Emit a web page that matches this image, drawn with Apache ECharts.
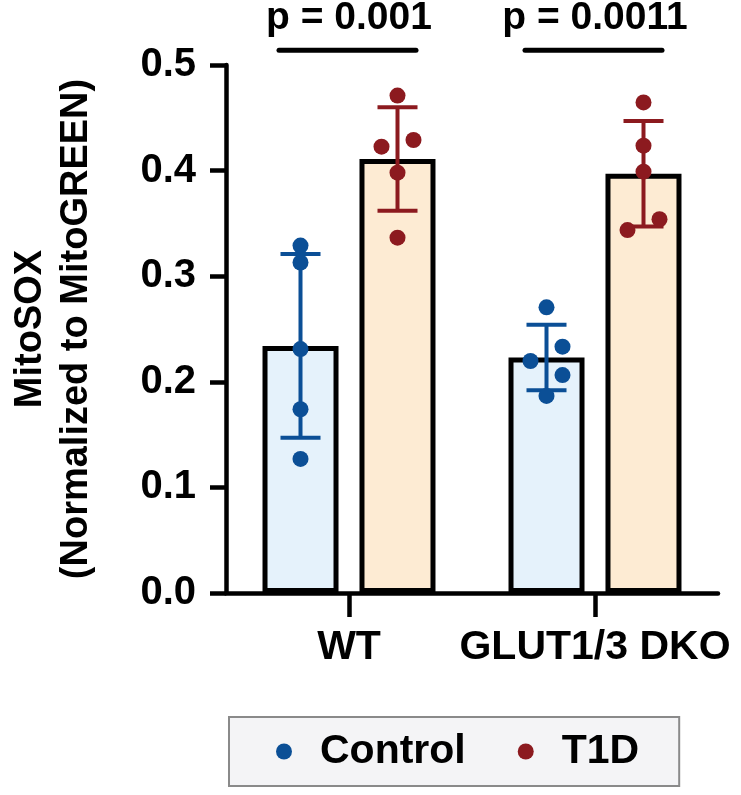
<!DOCTYPE html>
<html>
<head>
<meta charset="utf-8">
<script src="https://cdn.jsdelivr.net/npm/echarts@6/dist/echarts.min.js"></script>
<style>
html,body{margin:0;padding:0;background:#fff;}
#chart{width:741px;height:795px;}
</style>
</head>
<body>
<div id="chart"></div>
<script>
// ---- data ----
const categories = ['WT', 'GLUT1/3 DKO'];
const seriesNames = ['Control', 'T1D'];
const yTickLabels = ['0.0', '0.1', '0.2', '0.3', '0.4', '0.5'];
const controlMean = [0.234, 0.223];
const t1dMean = [0.411, 0.397];
const controlSD = [0.087, 0.031];
const t1dSD = [0.049, 0.050];
const controlPoints = [
  [0.329, 0.313, 0.231, 0.174, 0.127],
  [0.2705, 0.2333, 0.2197, 0.2064, 0.1866]
];
const controlLanes = [
  [0, 0, 0, 0, 0],
  [0, 1, -1, 1, 0]
];
const t1dPoints = [
  [0.471, 0.4227, 0.429, 0.398, 0.3365],
  [0.4646, 0.4236, 0.399, 0.3539, 0.3437]
];
const t1dLanes = [
  [0, -1, 1, 0, 0],
  [0, 0, 0, 1, -1]
];
const pLabels = ['p = 0.001', 'p = 0.0011'];

// ---- layout / style ----
const FONT = '"Liberation Sans", Arial, Helvetica, sans-serif';
const BAR_W = 76, BAR_BORDER = 5, BAR_GAP = '27.6%';
const SIDE_OFFSET = 48.5;   // px from category centre to each bar centre
const JITTER = 16;          // px per jitter lane
const BLUE = '#0B4F96', RED = '#8C1A1F';
const BLUE_FILL = '#E5F2FB', RED_FILL = '#FDEBD3';
const BRACKET_LEVEL = 0.514;

function pointsData(points, lanes, side) {
  const out = [];
  points.forEach((arr, i) => arr.forEach((v, j) => {
    out.push({ value: [i, v], symbolOffset: [side * SIDE_OFFSET + lanes[i][j] * JITTER, 0] });
  }));
  return out;
}
function errData(means, sds) {
  return means.map((m, i) => [i, m, sds[i]]);
}
function errorSeries(name, means, sds, side, color) {
  return {
    type: 'custom', name: name + ' SD', z: 5, silent: true,
    data: errData(means, sds),
    renderItem: function (params, api) {
      const i = api.value(0), m = api.value(1), s = api.value(2);
      const top = api.coord([i, m + s]);
      const bot = api.coord([i, m - s]);
      const x = top[0] + side * SIDE_OFFSET;
      const half = 20;
      const style = { stroke: color, lineWidth: 4, fill: null };
      return { type: 'group', children: [
        { type: 'line', shape: { x1: x, y1: top[1], x2: x, y2: bot[1] }, style },
        { type: 'line', shape: { x1: x - half, y1: top[1], x2: x + half, y2: top[1] }, style },
        { type: 'line', shape: { x1: x - half, y1: bot[1], x2: x + half, y2: bot[1] }, style }
      ]};
    }
  };
}

const chart = echarts.init(document.getElementById('chart'));
chart.setOption({
  animation: false,
  backgroundColor: '#fff',
  textStyle: { fontFamily: FONT },
  grid: { left: 223, right: 23, top: 65, bottom: 202, containLabel: false },
  legend: {
    left: 229, top: 717,
    padding: [14, 40, 14, 47],
    itemGap: 52, itemWidth: 16, itemHeight: 16,
    backgroundColor: '#F4F4F6', borderColor: '#8A8A8A', borderWidth: 2,
    data: [{ name: 'Control', icon: 'circle' }, { name: 'T1D', icon: 'circle' }],
    textStyle: { fontSize: 41, fontWeight: 'bold', color: '#000', fontFamily: FONT, padding: [0, 0, 0, 23] }
  },
  xAxis: {
    type: 'category', data: categories,
    axisLine: { show: true, lineStyle: { color: '#000', width: 4.5 } },
    axisTick: { show: true, alignWithLabel: true, length: 24, lineStyle: { color: '#000', width: 4.5 } },
    axisLabel: { fontSize: 41, fontWeight: 'bold', color: '#000', margin: 34, fontFamily: FONT,
      interval: 0, hideOverlap: false },
    splitLine: { show: false }
  },
  yAxis: {
    type: 'value', min: 0, max: 0.5, interval: 0.1,
    name: 'MitoSOX\n(Normalized to MitoGREEN)',
    nameLocation: 'middle', nameGap: 126,
    nameTextStyle: { fontSize: 38, fontWeight: 'bold', color: '#000', lineHeight: 46, fontFamily: FONT },
    axisLine: { show: true, lineStyle: { color: '#000', width: 4.5 } },
    axisTick: { show: true, length: 16, lineStyle: { color: '#000', width: 4.5 } },
    axisLabel: { fontSize: 40, fontWeight: 'bold', color: '#000', margin: 30, fontFamily: FONT,
      formatter: (v, idx) => yTickLabels[idx] },
    splitLine: { show: false }
  },
  series: [
    { type: 'bar', name: 'Control bar', data: controlMean, barWidth: BAR_W, barGap: BAR_GAP, z: 2,
      itemStyle: { color: BLUE_FILL, borderColor: '#000', borderWidth: BAR_BORDER } },
    { type: 'bar', name: 'T1D bar', data: t1dMean, barWidth: BAR_W, barGap: BAR_GAP, z: 2,
      itemStyle: { color: RED_FILL, borderColor: '#000', borderWidth: BAR_BORDER } },
    errorSeries('Control', controlMean, controlSD, -1, BLUE),
    errorSeries('T1D', t1dMean, t1dSD, 1, RED),
    { type: 'scatter', name: seriesNames[0], symbol: 'circle', symbolSize: 16, z: 6,
      itemStyle: { color: BLUE, opacity: 1 }, data: pointsData(controlPoints, controlLanes, -1) },
    { type: 'scatter', name: seriesNames[1], symbol: 'circle', symbolSize: 16, z: 6,
      itemStyle: { color: RED, opacity: 1 }, data: pointsData(t1dPoints, t1dLanes, 1) },
    { type: 'custom', name: 'significance', clip: false, silent: true, z: 7,
      data: categories.map((c, i) => [i, BRACKET_LEVEL]),
      renderItem: function (params, api) {
        const p = api.coord([api.value(0), api.value(1)]);
        const x = p[0], y = p[1];
        return { type: 'group', children: [
          { type: 'line', shape: { x1: x - 70, y1: y, x2: x + 67, y2: y },
            style: { stroke: '#000', lineWidth: 5, lineCap: 'round' } },
          { type: 'text', x: x, y: y - 12,
            style: { text: pLabels[params.dataIndex], fill: '#000', font: 'bold 39px ' + FONT,
              textAlign: 'center', textVerticalAlign: 'bottom' } }
        ]};
      }
    }
  ]
});
</script>
</body>
</html>
